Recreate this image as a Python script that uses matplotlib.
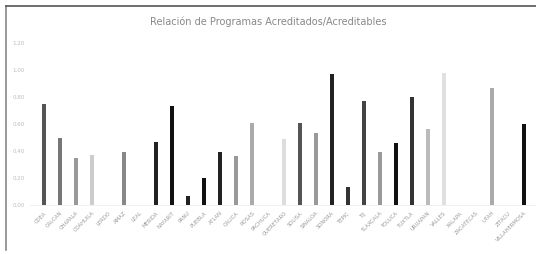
import matplotlib
matplotlib.use("Agg")
import matplotlib.pyplot as plt
from matplotlib.lines import Line2D

# datos
planteles = ["CDEA", "CALCAN", "CHAPALA", "COAHUILA", "LERDO", "AMAZ", "LEAL",
             "MERIDA", "NAYARIT", "PANU", "PUEBLA", "ATLAN", "CALICA", "ROSAS",
             "PACHUCA", "QUERETARO", "SOLISA", "SINALOA", "SONORA", "TEPIC",
             "TIJ", "TLAXCALA", "TOLUCA", "TUXTLA", "URUAPAN", "VALLES",
             "XALAPA", "ZACATECAS", "UTAH", "ZITACU", "VILLAHERMOSA"]
relacion = [0.75, 0.50, 0.35, 0.37, 0.0, 0.39, 0.0,
            0.47, 0.73, 0.07, 0.20, 0.39, 0.36, 0.61,
            0.0, 0.49, 0.61, 0.53, 0.97, 0.13,
            0.77, 0.39, 0.46, 0.80, 0.56, 0.98,
            0.0, 0.0, 0.87, 0.0, 0.60]
grises = ["#555555", "#777777", "#999999", "#cccccc", "#ffffff", "#888888", "#ffffff",
          "#222222", "#111111", "#222222", "#111111", "#222222", "#999999", "#aaaaaa",
          "#ffffff", "#dddddd", "#555555", "#999999", "#222222", "#333333",
          "#444444", "#999999", "#111111", "#333333", "#bbbbbb", "#e0e0e0",
          "#ffffff", "#ffffff", "#aaaaaa", "#ffffff", "#111111"]
yticks = [0.0, 0.2, 0.4, 0.6, 0.8, 1.0, 1.2]

fig = plt.figure(figsize=(5.36, 2.54), dpi=100)
ax = fig.add_axes([30/536, 1 - 205/254, 1 - 30/536, (205 - 43)/254])

x = range(len(planteles))
ax.bar(x, relacion, width=0.22, color=grises)

ax.set_xlim(-0.875, 30.75)
ax.set_ylim(0, 1.2)
ax.set_yticks(yticks)
ax.set_yticklabels(["%.2f" % v for v in yticks], fontsize=4, color="#bbbbbb")
ax.set_xticks(list(x))
ax.set_xticklabels(planteles, rotation=45, ha="right", rotation_mode="anchor",
                   fontsize=3.8, color="#999999")
ax.tick_params(length=0, pad=4)
for s in ["top", "right", "left"]:
    ax.spines[s].set_visible(False)
ax.spines["bottom"].set_color("#eeeeee")
ax.spines["bottom"].set_linewidth(0.6)

fig.text(0.5, 1 - 22/254, "Relación de Programas Acreditados/Acreditables",
         ha="center", va="center", fontsize=7, color="#888888")

# marco del grafico
fig.add_artist(Line2D([6/536, 6/536], [1 - 6/254, 1 - 250/254],
                      transform=fig.transFigure, color="#888888", lw=1.2))
fig.add_artist(Line2D([6/536, 1], [1 - 6/254, 1 - 6/254],
                      transform=fig.transFigure, color="#555555", lw=1.2))

fig.savefig("out.png", dpi=100)
